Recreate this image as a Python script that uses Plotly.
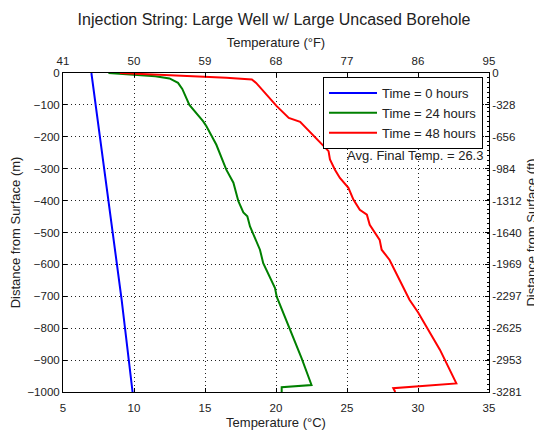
import plotly.graph_objects as go

# ---- data ----
depth_0h = [0, -200, -500, -711, -1000]
temp_0h = [7.0, 7.6, 8.45, 9.13, 9.9]

depth_24h = [0, -5, -10, -17, -25, -31, -50, -100, -151, -167, -225, -303, -344,
             -402, -437, -449, -481, -554, -596, -674, -701, -894, -978, -985, -1000]
temp_24h = [8.2, 10.0, 11.5, 12.5, 12.9, 13.1, 13.4, 13.9, 14.86, 15.1, 15.8, 16.5, 17.0,
            17.35, 17.7, 17.98, 18.17, 18.87, 19.1, 19.93, 20.05, 21.8, 22.5, 20.4, 20.4]

depth_48h = [0, -8, -15, -20, -31, -104, -141, -153, -193, -245, -271, -303, -329, -360,
             -397, -429, -444, -476, -523, -554, -586, -711, -750, -868, -973, -988, -1000]
temp_48h = [9.0, 13.5, 16.5, 18.3, 18.6, 20.05, 20.9, 21.7, 22.6, 23.7, 23.8, 24.15, 24.5, 25.1,
            25.45, 25.9, 26.4, 26.6, 27.3, 27.44, 28.0, 29.4, 30.0, 31.55, 32.7, 28.26, 28.4]

series_names = ["Time = 0 hours", "Time = 24 hours", "Time = 48 hours"]
series_colors = ["#0000ff", "#008000", "#ff0000"]

x_c_ticks = [5, 10, 15, 20, 25, 30, 35]
x_f_ticks = [41, 50, 59, 68, 77, 86, 95]
y_m_ticks = [0, -100, -200, -300, -400, -500, -600, -700, -800, -900, -1000]
y_ft_labels = ["0", "-328", "-656", "-984", "-1312", "-1640", "-1969", "-2297",
               "-2625", "-2953", "-3281"]
avg_final_temp = 26.3

M_TO_FT = 3.28084
y_ft_vals = [v * M_TO_FT for v in y_m_ticks]

font_fam = "Liberation Sans, Arial, sans-serif"
txt = "#222222"

# page body has an 8px margin; figure is laid out to fit the 542x433 window
W, H, OFF = 534, 425, 8
PL, PR, PT, PB = 63, 489, 73, 392   # plot area in window pixels

fig = go.Figure()
for d, t, n, c in [(depth_0h, temp_0h, series_names[0], series_colors[0]),
                   (depth_24h, temp_24h, series_names[1], series_colors[1]),
                   (depth_48h, temp_48h, series_names[2], series_colors[2])]:
    fig.add_trace(go.Scatter(x=t, y=d, mode="lines", name=n,
                             line=dict(color=c, width=2)))

# invisible trace to activate top / right axes
fig.add_trace(go.Scatter(x=[x_f_ticks[0], x_f_ticks[-1]], y=[y_ft_vals[0], y_ft_vals[-1]],
                         xaxis="x2", yaxis="y2", mode="lines", opacity=0,
                         showlegend=False, hoverinfo="skip"))

axis_common = dict(showline=True, linecolor="black", linewidth=1, ticks="inside",
                   ticklen=4, tickcolor="black", zeroline=False,
                   tickfont=dict(size=11.5, color=txt, family=font_fam))
grid = dict(showgrid=True, gridcolor="#222222", griddash="1px,3px", gridwidth=1)

fig.update_layout(
    width=W, height=H,
    margin=dict(l=PL - OFF, r=OFF + W - PR, t=PT - OFF, b=OFF + H - PB, autoexpand=False),
    paper_bgcolor="white", plot_bgcolor="white",
    font=dict(family=font_fam, color=txt, size=13),
    title=dict(text="Injection String: Large Well w/ Large Uncased Borehole",
               x=(274 - OFF) / W, xanchor="center", y=1 - (19 - OFF) / H, yanchor="middle",
               yref="container", font=dict(size=16, color=txt)),
    xaxis=dict(range=[5, 35], tickvals=x_c_ticks, ticklabelstandoff=5,
               title=dict(text="Temperature (°C)", standoff=5, font=dict(size=13)),
               **grid, **axis_common),
    yaxis=dict(range=[-1000, 0], tickvals=y_m_ticks,
               title=dict(text="Distance from Surface (m)", standoff=11, font=dict(size=13)),
               **grid, **axis_common),
    xaxis2=dict(range=[41, 95], tickvals=x_f_ticks, overlaying="x", side="top",
                anchor="y", showgrid=False, ticklabelstandoff=2,
                title=dict(text="Temperature (°F)", standoff=4, font=dict(size=13)),
                **axis_common),
    yaxis2=dict(range=[y_ft_vals[-1], 0], tickvals=y_ft_vals, ticktext=y_ft_labels,
                overlaying="y", side="right", anchor="x", showgrid=False,
                minor=dict(dtick=50, ticks="inside", ticklen=2, tickcolor="black"),
                title=dict(text="Distance from Surface (ft)", standoff=6, font=dict(size=13)),
                **axis_common),
    legend=dict(x=(323 - PL) / (PR - PL), y=(PB - 77) / (PB - PT), xanchor="left",
                yanchor="top", bordercolor="black", borderwidth=1, bgcolor="white",
                font=dict(size=13, color=txt), tracegroupgap=0, itemwidth=48),
    annotations=[dict(text=f"Avg. Final Temp. = {avg_final_temp}", xref="paper", yref="paper",
                      x=(485 - PL) / (PR - PL), y=(PB - 155) / (PB - PT), xanchor="right",
                      yanchor="middle", showarrow=False, font=dict(size=13, color=txt))],
    showlegend=True,
)

fig.write_html("out.html")
